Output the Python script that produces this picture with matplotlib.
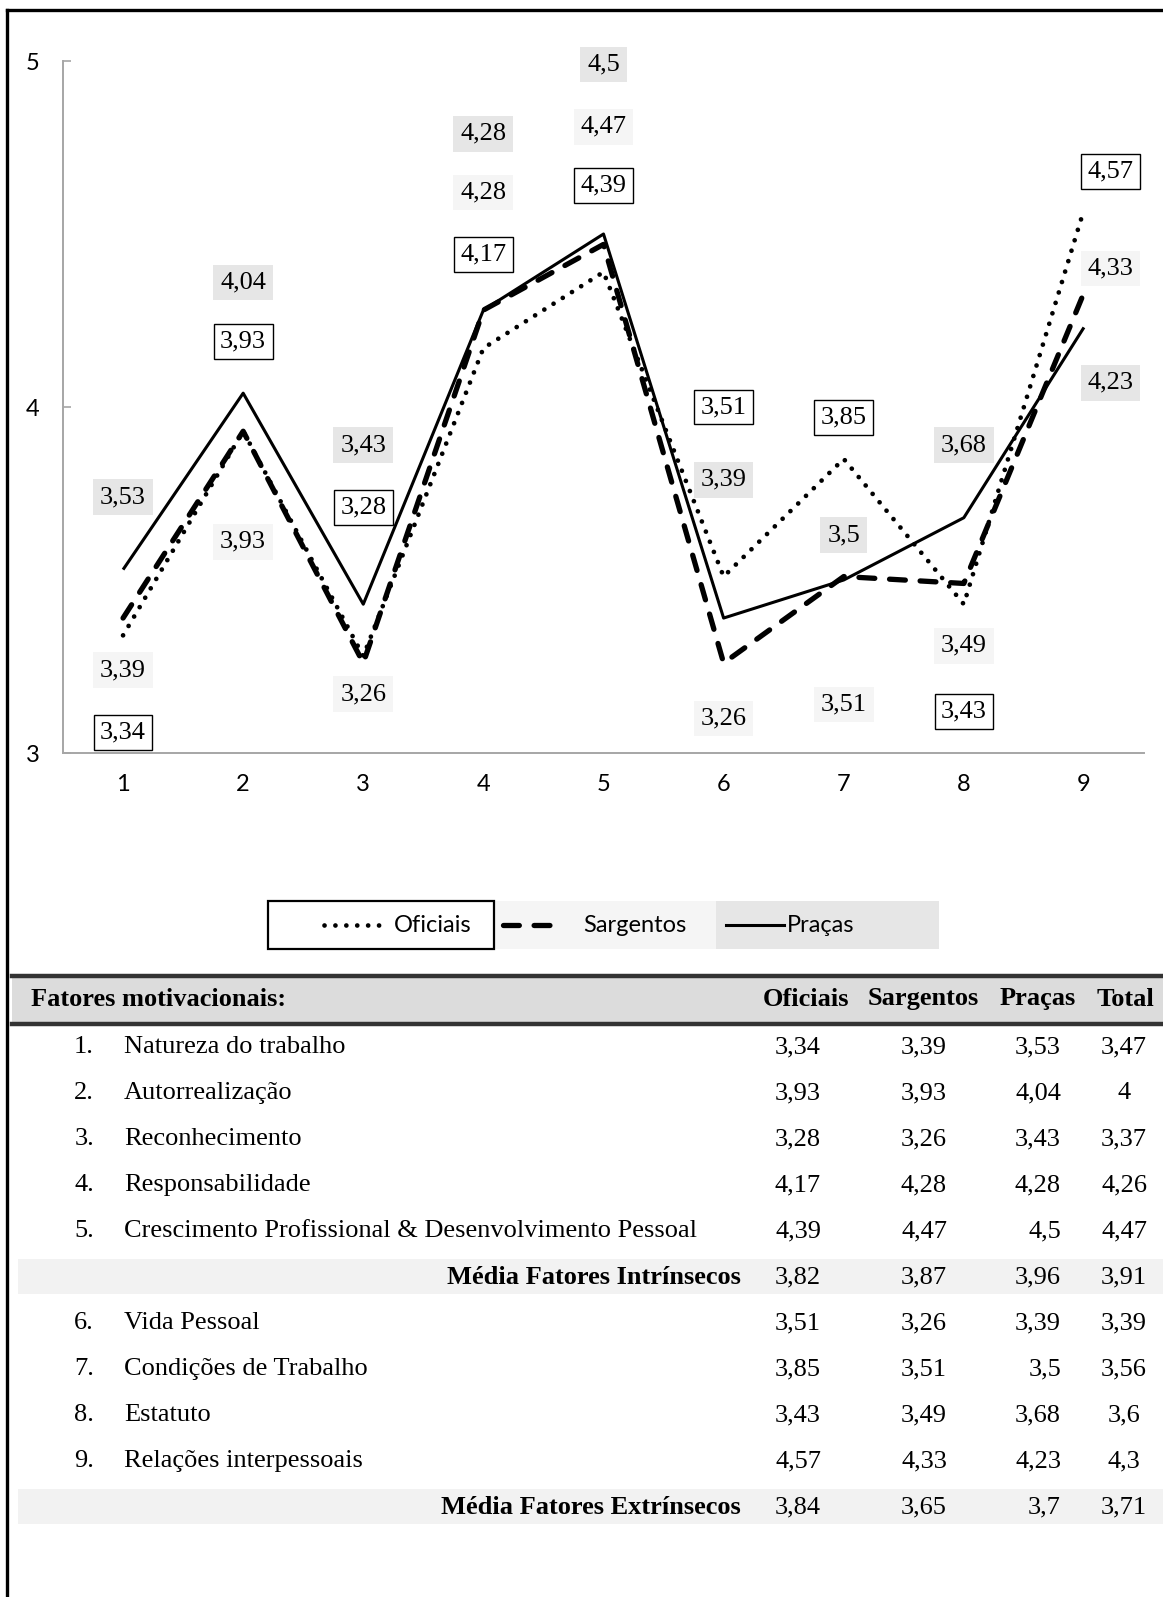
import matplotlib.pyplot as plt
from matplotlib.patches import Rectangle

# fatores 1..9
fatores = [1, 2, 3, 4, 5, 6, 7, 8, 9]
oficiais = [3.34, 3.93, 3.28, 4.17, 4.39, 3.51, 3.85, 3.43, 4.57]
sargentos = [3.39, 3.93, 3.26, 4.28, 4.47, 3.26, 3.51, 3.49, 4.33]
pracas = [3.53, 4.04, 3.43, 4.28, 4.50, 3.39, 3.50, 3.68, 4.23]

# where each data label sits (y in axis units)
of_label_y = [3.06, 4.19, 3.71, 4.44, 4.64, 4.00, 3.97, 3.12, 4.68]
sa_label_y = [3.24, 3.61, 3.17, 4.62, 4.81, 3.10, 3.14, 3.31, 4.40]
pr_label_y = [3.74, 4.36, 3.89, 4.79, 4.99, 3.79, 3.63, 3.89, 4.07]
label_dx = [0, 0, 0, 0, 0, 0, 0, 0, 0.22]

# table
nomes = ["Natureza do trabalho", "Autorrealização", "Reconhecimento",
         "Responsabilidade",
         "Crescimento Profissional & Desenvolvimento Pessoal",
         "Vida Pessoal", "Condições de Trabalho", "Estatuto",
         "Relações interpessoais"]
total = ["3,47", "4", "3,37", "4,26", "4,47", "3,39", "3,56", "3,6", "4,3"]
media_intr = ["3,82", "3,87", "3,96", "3,91"]
media_extr = ["3,84", "3,65", "3,7", "3,71"]
colunas = ["Oficiais", "Sargentos", "Praças", "Total"]

W, H = 1163, 1597
fig = plt.figure(figsize=(W / 100, H / 100), dpi=100)

def fx(px):
    return px / W

def fy(py):
    return 1 - py / H

def fmt(v):
    s = ("%.2f" % v).rstrip("0").rstrip(".")
    return s.replace(".", ",")

serif = "Liberation Serif"
sans = "Lato"
fs = 19

dots = (0, (0.01, 2.3))
dashes = (0, (3, 2.8))

ax = fig.add_axes([fx(63), fy(753), fx(1144) - fx(63), fy(61) - fy(753)])
ax.plot(fatores, pracas, color="black", lw=2.2, solid_capstyle="butt", zorder=3)
ax.plot(fatores, sargentos, color="black", lw=3.8, linestyle=dashes,
        dash_capstyle="round", zorder=3)
ax.plot(fatores, oficiais, color="black", lw=3.4, linestyle=dots,
        dash_capstyle="round", zorder=3)

ax.set_xlim(0.5, 9.5)
ax.set_ylim(3, 5)
ax.set_yticks([3, 4, 5])
ax.set_xticks(fatores)
ax.set_yticklabels(["3", "4", "5"], family=sans, fontsize=17)
ax.set_xticklabels([str(f) for f in fatores], family=sans, fontsize=17)
ax.tick_params(axis="y", direction="in", length=6, width=1.2, color="#a6a6a6", pad=17)
ax.tick_params(axis="x", length=0, pad=15)
for side in ["top", "right"]:
    ax.spines[side].set_visible(False)
for side in ["left", "bottom"]:
    ax.spines[side].set_color("#a6a6a6")
    ax.spines[side].set_linewidth(1.4)

for i, x in enumerate(fatores):
    xl = x + label_dx[i]
    ax.text(xl, of_label_y[i], fmt(oficiais[i]), family=serif, fontsize=fs,
            ha="center", va="center", zorder=4,
            bbox=dict(boxstyle="square,pad=0.24", fc="white", ec="black", lw=1.0))
    ax.text(xl, sa_label_y[i], fmt(sargentos[i]), family=serif, fontsize=fs,
            ha="center", va="center", zorder=4,
            bbox=dict(boxstyle="square,pad=0.26", fc="#f5f5f5", ec="none"))
    ax.text(xl, pr_label_y[i], fmt(pracas[i]), family=serif, fontsize=fs,
            ha="center", va="center", zorder=4,
            bbox=dict(boxstyle="square,pad=0.26", fc="#e6e6e6", ec="none"))

# overlay in pixel coordinates for legend, table and frame
ov = fig.add_axes([0, 0, 1, 1], zorder=-1)
ov.set_xlim(0, W)
ov.set_ylim(H, 0)
ov.axis("off")

# frame
ov.plot([7, 7], [10, H], color="black", lw=2.4)
ov.plot([7, W], [10, 10], color="black", lw=2.4)

# legend
ov.add_patch(Rectangle((494, 901), 222, 48, fc="#f5f5f5", ec="none"))
ov.add_patch(Rectangle((716, 901), 223, 48, fc="#e6e6e6", ec="none"))
ov.add_patch(Rectangle((268, 901), 226, 48, fc="white", ec="black", lw=1.6))
ov.plot([324, 381], [925, 925], color="black", lw=3.4,
        linestyle=dots, dash_capstyle="round")
ov.plot([503, 556], [925, 925], color="black", lw=3.8,
        linestyle=dashes, dash_capstyle="round")
ov.plot([726, 784], [925, 925], color="black", lw=2.2)
ov.text(394, 925, "Oficiais", family=sans, fontsize=17, va="center")
ov.text(583, 925, "Sargentos", family=sans, fontsize=17, va="center")
ov.text(787, 925, "Praças", family=sans, fontsize=17, va="center")

# table header
ov.add_patch(Rectangle((12, 976), W - 12, 48, fc="#dcdcdc", ec="none"))
ov.plot([12, W], [976, 976], color="#333333", lw=3.2)
ov.plot([12, W], [1024, 1024], color="#333333", lw=3.2)
ov.text(31, 999, "Fatores motivacionais:", family=serif, fontsize=fs,
        weight="bold", va="center")
col_x = [806, 923, 1038, 1125]
for c, x in zip(colunas, col_x):
    ov.text(x, 999, c, family=serif, fontsize=fs, weight="bold",
            ha="center", va="center")

val_right = [821, 947, 1061]
row_y = [1047, 1093, 1139, 1185, 1231, 1323, 1369, 1415, 1461]
for i, y in enumerate(row_y):
    ov.text(94, y, "%d." % fatores[i], family=serif, fontsize=fs,
            ha="right", va="center")
    ov.text(124, y, nomes[i], family=serif, fontsize=fs, va="center")
    for v, x in zip([oficiais[i], sargentos[i], pracas[i]], val_right):
        ov.text(x, y, fmt(v), family=serif, fontsize=fs, ha="right", va="center")
    ov.text(1124, y, total[i], family=serif, fontsize=fs, ha="center", va="center")

for y, label, vals in [(1277, "Média Fatores Intrínsecos", media_intr),
                       (1507, "Média Fatores Extrínsecos", media_extr)]:
    ov.add_patch(Rectangle((18, y - 18), W - 18, 35, fc="#f2f2f2", ec="none"))
    ov.text(741, y, label, family=serif, fontsize=fs, weight="bold",
            ha="right", va="center")
    for v, x in zip(vals[:3], val_right):
        ov.text(x, y, v, family=serif, fontsize=fs, ha="right", va="center")
    ov.text(1124, y, vals[3], family=serif, fontsize=fs, ha="center", va="center")

fig.savefig("out.png", dpi=100)
